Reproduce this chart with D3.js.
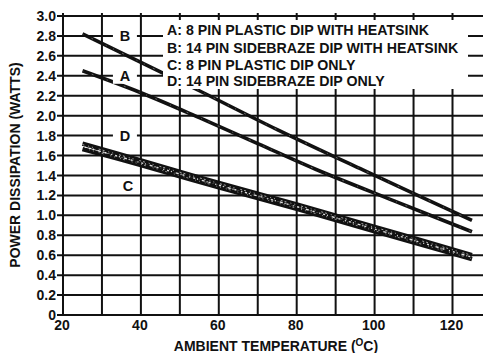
<!DOCTYPE html>
<html><head><meta charset="utf-8">
<script src="https://cdn.jsdelivr.net/npm/d3@7/dist/d3.min.js"></script>
<style>
html,body{margin:0;padding:0;background:#fff;}
svg{display:block;}
text{font-family:"Liberation Sans",Arial,Helvetica,sans-serif;fill:#111;font-weight:bold;}
</style></head>
<body>
<script>
// ---- data ----
const xTicks = [20, 40, 60, 80, 100, 120];
const xGrid = [20, 30, 40, 50, 60, 70, 80, 90, 100, 110, 120];
const yTicks = [0, 0.2, 0.4, 0.6, 0.8, 1.0, 1.2, 1.4, 1.6, 1.8, 2.0, 2.2, 2.4, 2.6, 2.8, 3.0];
const yTickLabels = ["0","0.2","0.4","0.6","0.8","1.0","1.2","1.4","1.6","1.8","2.0","2.2","2.4","2.6","2.8","3.0"];

const tempA = [25, 40, 55, 70, 85, 105, 125];
const powerA = [2.45, 2.23, 1.98, 1.72, 1.46, 1.145, 0.835];
const tempB = [25, 45, 55, 75, 97, 125];
const powerB = [2.82, 2.44, 2.25, 1.86, 1.455, 0.95];
const tempC = [25, 40, 60, 80, 100, 125];
const powerC = [1.665, 1.505, 1.28, 1.065, 0.84, 0.56];
const tempD = [25, 40, 60, 80, 100, 125];
const powerD = [1.72, 1.55, 1.325, 1.11, 0.885, 0.60];

const legendLines = [
  "A: 8 PIN PLASTIC DIP WITH HEATSINK",
  "B: 14 PIN SIDEBRAZE DIP WITH HEATSINK",
  "C: 8 PIN PLASTIC DIP ONLY",
  "D: 14 PIN SIDEBRAZE DIP ONLY"
];
const curveLabels = ["B", "A", "D", "C"];
const curveLabelTemp = [35.9, 35.9, 35.9, 36.7];
const curveLabelPower = [2.8, 2.4, 1.8, 1.30];

const xTitle = "AMBIENT TEMPERATURE (";
const xTitleSup = "O";
const xTitleEnd = "C)";
const yTitle = "POWER DISSIPATION (WATTS)";

// ---- chart ----
const W = 483, H = 353;
const svg = d3.select("body").append("svg").attr("width", W).attr("height", H);

const x = d3.scaleLinear().domain([20, 120]).range([63, 452.5]);
const y = d3.scaleLinear().domain([0, 3]).range([315, 16]);

const ink = "#111";
const grid = svg.append("g");

// horizontal grid lines (extend left as ticks, to the right edge)
grid.selectAll("line.h").data(yTicks).enter().append("line")
  .attr("x1", x(20) - 6).attr("x2", W)
  .attr("y1", d => y(d)).attr("y2", d => y(d))
  .attr("stroke", ink).attr("stroke-width", 2);

// vertical grid lines
grid.selectAll("line.v").data(xGrid).enter().append("line")
  .attr("x1", d => x(d)).attr("x2", d => x(d))
  .attr("y1", y(3) - 3).attr("y2", y(0) + 1)
  .attr("stroke", ink).attr("stroke-width", 2);

// y tick labels
svg.selectAll("text.yt").data(yTicks).enter().append("text")
  .attr("x", x(20) - 7).attr("y", d => y(d))
  .attr("dy", "0.36em").attr("text-anchor", "end")
  .style("font-size", "14px")
  .text((d, i) => yTickLabels[i]);

// x tick labels
svg.selectAll("text.xt").data(xTicks).enter().append("text")
  .attr("x", d => x(d) - 1).attr("y", 330)
  .attr("text-anchor", "middle")
  .style("font-size", "14px")
  .text(d => d);

// line generator
const line = d3.line().x(d => x(d[0])).y(d => y(d[1])).curve(d3.curveCatmullRom);
const zipS = (a, b) => a.map((v, i) => [v, b[i]]);

const curves = svg.append("g");
// C and D band
[[tempD, powerD], [tempC, powerC]].forEach(([t, p]) => {
  curves.append("path").attr("d", line(zipS(t, p)))
    .attr("fill", "none").attr("stroke", ink).attr("stroke-width", 4.5);
});
// speckled texture in the C/D band
const mid = powerD.map((v, i) => (v + powerC[i]) / 2);
[[0, 1.4, "1,3,2,2,1,4,3,2,1,1,2,5", -30, 0.85],
 [0.018, 0.9, "2,4,1,3,1,6,2,2", 0, 0.7],
 [-0.016, 0.8, "1,5,1,2,2,7,1,3", -11, 0.65]].forEach(([off, w, dash, dOff, op]) => {
  curves.append("path").attr("d", line(zipS(tempD, mid.map(v => v + off))))
    .attr("fill", "none").attr("stroke", "#fff").attr("stroke-width", w)
    .attr("stroke-dasharray", dash).attr("stroke-dashoffset", dOff).attr("opacity", op);
});

// A and B
[[tempA, powerA], [tempB, powerB]].forEach(([t, p]) => {
  curves.append("path").attr("d", line(zipS(t, p)))
    .attr("fill", "none").attr("stroke", ink).attr("stroke-width", 3.6);
  curves.append("path").attr("d", line(zipS(t, p)))
    .attr("fill", "none").attr("stroke", "#fff").attr("stroke-width", 0.6)
    .attr("stroke-dasharray", "1,9,2,14,1,7").attr("opacity", 0.6);
});

// curve labels with white background
curveLabels.forEach((lab, i) => {
  const cx = x(curveLabelTemp[i]), cy = y(curveLabelPower[i]);
  svg.append("rect").attr("x", cx - 12).attr("y", cy - 8).attr("width", 24).attr("height", 16).attr("fill", "#fff");
  svg.append("text").attr("x", cx).attr("y", cy).attr("dy", "0.36em")
    .attr("text-anchor", "middle").style("font-size", "14.5px").text(lab);
});

// legend box (white, hides grid)
svg.append("rect").attr("x", 163).attr("y", 20).attr("width", 305).attr("height", 69).attr("fill", "#fff");
const legendBase = [35, 52.5, 69.5, 86];
legendLines.forEach((t, i) => {
  svg.append("text").attr("x", 167).attr("y", legendBase[i])
    .style("font-size", "14.2px").text(t);
});

// axis titles
const xt = svg.append("text").attr("x", 276).attr("y", 351).attr("text-anchor", "middle").style("font-size", "14px");
xt.append("tspan").text(xTitle);
xt.append("tspan").attr("dy", -5).style("font-size", "10px").text(xTitleSup);
xt.append("tspan").attr("dy", 5).text(xTitleEnd);

svg.append("text").attr("transform", "translate(20,165) rotate(-90)")
  .attr("text-anchor", "middle").style("font-size", "14px").text(yTitle);
</script>
</body></html>
